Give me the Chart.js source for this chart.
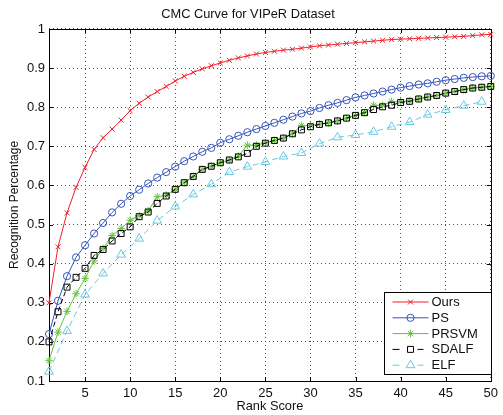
<!DOCTYPE html>
<html>
<head>
<meta charset="utf-8">
<title>CMC Curve for VIPeR Dataset</title>
<script src="https://cdn.jsdelivr.net/npm/chart.js@4.4.0/dist/chart.umd.min.js"></script>
<style>
  html, body { margin: 0; padding: 0; background: #fff; }
</style>
</head>
<body>
<canvas id="myChart" width="503" height="415"></canvas>
<script>
// rank axis
const ranks = [1,2,3,4,5,6,7,8,9,10,11,12,13,14,15,16,17,18,19,20,21,22,23,24,25,
               26,27,28,29,30,31,32,33,34,35,36,37,38,39,40,41,42,43,44,45,46,47,48,49,50];
const elfRanks = [1,3,5,7,9,11,13,15,17,19,21,23,25,27,29,31,33,35,37,39,41,43,45,47,49];

const xTicks = [5,10,15,20,25,30,35,40,45,50];
const yTicks = [0.1,0.2,0.3,0.4,0.5,0.6,0.7,0.8,0.9,1];
const yTickLabels = ['0.1','0.2','0.3','0.4','0.5','0.6','0.7','0.8','0.9','1'];

const seriesNames = ['Ours', 'PS', 'PRSVM', 'SDALF', 'ELF'];

// recognition rates
const ours = [0.300,0.443,0.530,0.595,0.646,0.692,0.722,0.744,0.767,0.791,0.810,0.826,0.840,0.853,0.867,
              0.879,0.889,0.898,0.906,0.913,0.920,0.926,0.931,0.936,0.940,0.943,0.946,0.948,0.951,0.954,
              0.957,0.959,0.961,0.963,0.965,0.967,0.969,0.971,0.973,0.974,0.975,0.976,0.977,0.978,0.979,
              0.980,0.981,0.983,0.985,0.986];
const ps = [0.220,0.305,0.368,0.416,0.447,0.477,0.504,0.531,0.553,0.573,0.589,0.605,0.620,0.634,0.648,
            0.662,0.674,0.686,0.696,0.709,0.718,0.727,0.736,0.744,0.752,0.760,0.768,0.776,0.784,0.790,
            0.798,0.805,0.811,0.818,0.825,0.830,0.835,0.840,0.845,0.850,0.854,0.858,0.861,0.865,0.869,
            0.872,0.875,0.877,0.879,0.880];
const prsvm = [0.152,0.225,0.278,0.323,0.362,0.407,0.439,0.472,0.490,0.511,0.523,0.535,0.571,0.575,0.590,
               0.607,0.623,0.641,0.649,0.658,0.665,0.675,0.703,0.703,0.709,0.715,0.721,0.732,0.753,0.753,
               0.757,0.760,0.765,0.772,0.779,0.786,0.805,0.805,0.814,0.814,0.816,0.821,0.826,0.830,0.836,
               0.840,0.845,0.849,0.851,0.853];
const sdalf = [0.200,0.277,0.340,0.365,0.388,0.421,0.436,0.458,0.477,0.494,0.520,0.532,0.554,0.573,0.590,
               0.607,0.623,0.641,0.649,0.658,0.665,0.673,0.682,0.700,0.708,0.715,0.721,0.732,0.742,0.750,
               0.756,0.760,0.765,0.772,0.779,0.786,0.794,0.801,0.805,0.812,0.815,0.821,0.826,0.830,0.836,
               0.840,0.845,0.849,0.851,0.853];
const elf = [0.124,0.228,0.321,0.375,0.423,0.464,0.510,0.546,0.577,0.603,0.634,0.648,0.660,0.674,0.683,
             0.707,0.723,0.729,0.737,0.750,0.762,0.781,0.793,0.804,0.814];

const FONT = '"Liberation Sans", Arial, Helvetica, sans-serif';

function pts(xs, ys) {
  return xs.map((x, i) => ({x: x, y: ys[i]}));
}

const styles = [
  {color: 'rgb(240,30,40)',  marker: 'crossRot', r: 3.5, dash: []},
  {color: 'rgb(55,85,185)',  marker: 'circle',   r: 3.6, dash: []},
  {color: 'rgb(100,195,60)', marker: 'star',     r: 3.8, dash: []},
  {color: 'rgb(0,0,0)',      marker: 'rect',     r: 4.2, dash: [5,3]},
  {color: 'rgb(105,200,225)',marker: 'triangle', r: 5,   dash: [6,4]}
];
const values = [pts(ranks, ours), pts(ranks, ps), pts(ranks, prsvm), pts(ranks, sdalf), pts(elfRanks, elf)];

const datasets = seriesNames.map((name, i) => ({
  label: name,
  data: values[i],
  borderColor: styles[i].color,
  borderWidth: 1,
  borderDash: styles[i].dash,
  pointStyle: styles[i].marker,
  pointRadius: styles[i].r,
  pointBorderColor: styles[i].color,
  pointBackgroundColor: 'rgba(0,0,0,0)',
  pointBorderWidth: 1,
  tension: 0,
  fill: false,
  clip: false,
  order: 5 - i
}));

// matlab style box, inward ticks and legend inside the axes
const matlabBox = {
  id: 'matlabBox',
  beforeDatasetsDraw(chart) {
    const {ctx, chartArea: a, scales: {x, y}} = chart;
    ctx.save();
    ctx.strokeStyle = '#000';
    ctx.lineWidth = 1;
    ctx.strokeRect(Math.round(a.left) + 0.5, Math.round(a.top) + 0.5,
                   Math.round(a.right - a.left), Math.round(a.bottom - a.top));
    ctx.beginPath();
    xTicks.forEach(v => {
      const px = Math.round(x.getPixelForValue(v)) + 0.5;
      ctx.moveTo(px, a.bottom); ctx.lineTo(px, a.bottom - 4);
      ctx.moveTo(px, a.top); ctx.lineTo(px, a.top + 4);
    });
    yTicks.forEach(v => {
      const py = Math.round(y.getPixelForValue(v)) + 0.5;
      ctx.moveTo(a.left, py); ctx.lineTo(a.left + 4, py);
      ctx.moveTo(a.right, py); ctx.lineTo(a.right - 4, py);
    });
    ctx.stroke();
    ctx.restore();
  },
  afterDraw(chart) {
    const {ctx, chartArea: a} = chart;
    const w = 107, h = 82;
    const left = Math.round(a.right - w) + 0.5, top = Math.round(a.bottom - 7 - h) + 0.5;
    ctx.save();
    ctx.fillStyle = '#fff';
    ctx.fillRect(left, top, w, h);
    ctx.strokeStyle = '#000';
    ctx.lineWidth = 1;
    ctx.strokeRect(left, top, w, h);
    ctx.font = '13px ' + FONT;
    ctx.textBaseline = 'middle';
    seriesNames.forEach((name, i) => {
      const cy = top + 9.5 + i * 15.8;
      const s = styles[i];
      ctx.strokeStyle = s.color;
      ctx.lineWidth = 1;
      ctx.setLineDash(s.dash.length ? [7, 5] : []);
      ctx.beginPath();
      ctx.moveTo(left + 8, cy);
      ctx.lineTo(left + 44, cy);
      ctx.stroke();
      ctx.setLineDash([]);
      ctx.fillStyle = '#fff';
      if (s.dash.length) ctx.fillRect(left + 19, cy - 6, 14, 12);
      ctx.fillStyle = 'rgba(0,0,0,0)';
      Chart.helpers.drawPoint(ctx, {pointStyle: s.marker, radius: s.r, rotation: 0, borderWidth: 1}, left + 26, cy);
      ctx.fillStyle = '#111';
      ctx.textAlign = 'left';
      ctx.fillText(name, left + 47, cy + 0.5);
    });
    ctx.restore();
  }
};

const ctx = document.getElementById('myChart').getContext('2d');
const myChart = new Chart(ctx, {
  type: 'line',
  data: {datasets: datasets},
  plugins: [matlabBox],
  options: {
    responsive: false,
    animation: false,
    layout: {padding: {top: 0, right: 7, left: 0, bottom: 0}},
    plugins: {
      legend: {display: false},
      tooltip: {enabled: false},
      title: {
        display: true,
        text: 'CMC Curve for VIPeR Dataset',
        color: '#111',
        font: {family: FONT, size: 12.8, weight: 'normal'},
        padding: {top: 6.5, bottom: 7.1}
      }
    },
    scales: {
      x: {
        type: 'linear',
        min: 1,
        max: 50,
        afterBuildTicks: s => { s.ticks = xTicks.map(v => ({value: v})); },
        afterFit: s => { s.height = 34; },
        ticks: {color: '#111', font: {family: FONT, size: 13}, padding: 5, maxRotation: 0},
        grid: {color: 'rgba(60,60,60,0.9)', lineWidth: 1, drawTicks: false},
        border: {display: false, dash: [1, 3]},
        title: {display: true, text: 'Rank Score', color: '#111',
                font: {family: FONT, size: 12.8}, padding: {top: 0, bottom: 0.5}}
      },
      y: {
        min: 0.1,
        max: 1,
        afterBuildTicks: s => { s.ticks = yTicks.map(v => ({value: v})); },
        afterFit: s => { s.width = 49; },
        ticks: {color: '#111', font: {family: FONT, size: 13}, padding: 4,
                callback: (v, i) => yTickLabels[i]},
        grid: {color: 'rgba(60,60,60,0.9)', lineWidth: 1, drawTicks: false},
        border: {display: false, dash: [1, 3]},
        title: {display: true, text: 'Recognition Percentage', color: '#111',
                font: {family: FONT, size: 12}, padding: {top: 7, bottom: 0}}
      }
    }
  }
});
</script>
</body>
</html>
